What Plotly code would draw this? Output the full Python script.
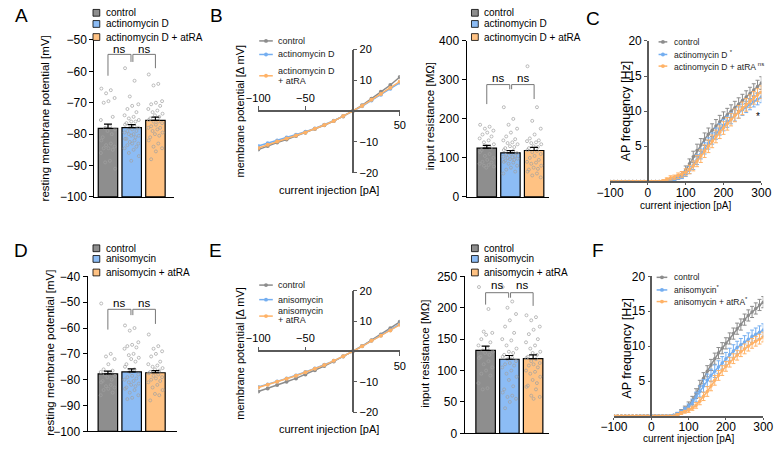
import plotly.graph_objects as go

# ── data ─────────────────────────────────────────────────────────────────────
labels_top = ["control", "actinomycin D", "actinomycin D + atRA"]
labels_bot = ["control", "anisomycin", "anisomycin + atRA"]

# A – resting membrane potential [mV]
rmp_A_mean = [-78.2, -77.9, -75.6]
rmp_A_sem = [1.4, 0.9, 1.0]
rmp_A_ctrl = [-65.5, -66.0, -67.0, -68.5, -69.5, -70.0, -74.5, -75.5, -77.5, -78.0, -78.5, -79.0, -80.0,
              -81.0, -82.0, -83.0, -83.5, -84.0, -84.5, -84.5, -85.0, -86.0, -88.5, -89.0, -91.0]
rmp_A_act = [-59.0, -63.0, -68.0, -70.5, -71.0, -72.0, -73.0, -74.0, -74.5, -75.0, -75.5, -76.0, -76.0,
             -76.5, -77.0, -77.5, -78.0, -78.0, -78.5, -79.0, -79.0, -79.5, -80.0, -80.0, -80.5, -80.5,
             -81.0, -81.5, -81.5, -82.0, -82.5, -83.0, -83.0, -83.5, -84.0, -84.5, -85.0, -86.0, -87.0, -88.5]
rmp_A_ra = [-61.0, -64.0, -64.5, -69.5, -70.0, -70.5, -71.0, -72.0, -72.5, -73.0, -73.5, -74.0, -74.5,
            -75.0, -75.5, -76.0, -76.0, -76.5, -77.0, -77.5, -78.0, -78.0, -78.5, -79.0, -79.5, -80.0,
            -80.5, -81.0, -82.0, -83.0, -84.0, -84.5, -85.5, -88.0]

# B – input resistance [MOhm]
rin_B_mean = [125, 113, 119]
rin_B_sem = [7, 6, 8]
rin_B_ctrl = [185, 180, 175, 170, 165, 160, 155, 150, 145, 140, 135, 130, 125, 120, 115, 110, 105, 100,
              95, 90, 88, 85, 82, 80, 78, 75]
rin_B_act = [230, 200, 185, 175, 165, 155, 148, 145, 140, 138, 135, 130, 128, 125, 120, 118, 115, 112,
             110, 108, 105, 103, 102, 100, 98, 97, 95, 93, 90, 88, 85, 80, 75, 70, 65, 60]
rin_B_ra = [335, 230, 195, 175, 160, 150, 145, 143, 140, 138, 135, 130, 128, 125, 120, 118, 115, 110,
            105, 100, 95, 90, 88, 85, 80, 75, 72, 70, 65, 60, 55, 50]

# B / E – I-V relation
iv_current = [-100, -90, -80, -70, -60, -50, -40, -30, -20, -10, 0, 10, 20, 30, 40, 50]
iv_B_ctrl = [-12.5, -11.3, -10.2, -9.2, -8.1, -7.0, -5.8, -4.6, -3.2, -1.7, 0, 1.9, 4.0, 6.3, 8.5, 11.1]
iv_B_act = [-11.3, -10.4, -9.5, -8.6, -7.7, -6.7, -5.6, -4.4, -3.1, -1.6, 0, 1.6, 3.5, 5.3, 7.3, 9.2]
iv_B_ra = [-12.0, -10.9, -9.9, -8.9, -7.9, -6.9, -5.7, -4.5, -3.2, -1.6, 0, 1.7, 3.7, 5.6, 7.6, 9.6]
iv_E_ctrl = [-13.2, -12.2, -11.1, -10.0, -8.9, -7.6, -6.2, -4.8, -3.3, -1.7, 0, 1.8, 3.7, 5.6, 7.7, 9.8]
iv_E_ani = [-11.7, -10.9, -9.9, -8.9, -7.9, -6.8, -5.6, -4.4, -3.1, -1.6, 0, 1.7, 3.5, 5.3, 7.0, 9.0]
iv_E_ra = [-11.9, -11.0, -10.0, -9.0, -8.0, -6.9, -5.7, -4.5, -3.1, -1.6, 0, 1.7, 3.5, 5.2, 6.9, 8.8]

# C / F – AP frequency [Hz]
ap_current = list(range(-100, 301, 10))
ap_C_ctrl = [0, 0, 0, 0, 0, 0, 0, 0, 0, 0, 0, 0, 0, 0, 0, 0,
             0.1, 0.3, 0.6, 1.0, 1.6, 2.5, 3.5, 4.4, 5.2, 6.0, 6.7, 7.3, 7.9, 8.5, 9.0,
             9.5, 10.0, 10.5, 11.0, 11.5, 12.0, 12.5, 13.0, 13.5, 14.0]
ap_C_act = [0, 0, 0, 0, 0, 0, 0, 0, 0, 0, 0, 0, 0, 0, 0, 0.1,
            0.2, 0.3, 0.5, 0.7, 1.1, 1.6, 2.3, 3.1, 3.9, 4.7, 5.4, 6.1, 6.8, 7.4, 8.0,
            8.5, 9.0, 9.4, 9.8, 10.2, 10.6, 11.0, 11.4, 11.7, 12.0]
ap_C_ra = [0, 0, 0, 0, 0, 0, 0, 0, 0, 0, 0, 0, 0, 0, 0.1, 0.3,
           0.5, 0.6, 0.8, 1.0, 1.3, 1.7, 2.2, 2.9, 3.6, 4.3, 5.0, 5.7, 6.4, 7.0, 7.6,
           8.2, 8.8, 9.4, 9.9, 10.4, 10.9, 11.4, 11.9, 12.3, 12.7]
ap_C_ctrl_sem = [0, 0, 0, 0, 0, 0, 0, 0, 0, 0, 0, 0, 0, 0, 0, 0,
                 0.1, 0.2, 0.3, 0.4, 0.6, 0.7, 0.8, 0.9, 0.9, 0.9, 0.9, 0.9, 0.9, 0.9, 0.9,
                 0.9, 0.9, 0.9, 0.9, 0.9, 0.9, 0.9, 0.9, 0.9, 0.9]
ap_C_act_sem = [0, 0, 0, 0, 0, 0, 0, 0, 0, 0, 0, 0, 0, 0, 0, 0.1,
                0.1, 0.2, 0.2, 0.3, 0.4, 0.5, 0.6, 0.7, 0.7, 0.8, 0.8, 0.8, 0.8, 0.8, 0.8,
                0.8, 0.8, 0.8, 0.8, 0.8, 0.8, 0.8, 0.8, 0.8, 0.8]
ap_C_ra_sem = [0, 0, 0, 0, 0, 0, 0, 0, 0, 0, 0, 0, 0, 0, 0.1, 0.2,
               0.3, 0.3, 0.4, 0.4, 0.5, 0.6, 0.7, 0.8, 0.9, 0.9, 0.9, 0.9, 0.9, 0.9, 0.9,
               0.9, 0.9, 0.9, 0.9, 0.9, 0.9, 0.9, 0.9, 0.9, 0.9]

ap_F_ctrl = [0, 0, 0, 0, 0, 0, 0, 0, 0, 0, 0, 0, 0, 0, 0, 0,
             0.1, 0.3, 0.6, 1.0, 1.5, 2.2, 3.2, 4.3, 5.4, 6.4, 7.3, 8.2, 9.0, 9.7, 10.4,
             11.1, 11.8, 12.5, 13.1, 13.8, 14.4, 14.9, 15.4, 15.9, 16.3]
ap_F_ani = [0, 0, 0, 0, 0, 0, 0, 0, 0, 0, 0, 0, 0, 0, 0, 0,
            0.1, 0.3, 0.6, 0.9, 1.3, 1.9, 2.7, 3.5, 4.3, 5.1, 5.8, 6.4, 7.0, 7.6, 8.2,
            8.8, 9.3, 9.8, 10.2, 10.6, 11.0, 11.4, 11.7, 12.0, 12.3]
ap_F_ra = [0, 0, 0, 0, 0, 0, 0, 0, 0, 0, 0, 0, 0, 0, 0, 0,
           0, 0.2, 0.4, 0.6, 0.8, 1.1, 1.5, 2.1, 2.8, 3.5, 4.3, 5.1, 5.8, 6.5, 7.1,
           7.7, 8.2, 8.7, 9.2, 9.6, 10.0, 10.4, 10.7, 11.0, 11.3]
ap_F_ctrl_sem = [0, 0, 0, 0, 0, 0, 0, 0, 0, 0, 0, 0, 0, 0, 0, 0,
                 0.1, 0.2, 0.3, 0.4, 0.5, 0.6, 0.7, 0.8, 0.8, 0.8, 0.8, 0.8, 0.8, 0.8, 0.8,
                 0.8, 0.8, 0.8, 0.8, 0.8, 0.8, 0.8, 0.8, 0.8, 0.8]
ap_F_ani_sem = [0, 0, 0, 0, 0, 0, 0, 0, 0, 0, 0, 0, 0, 0, 0, 0,
                0.1, 0.2, 0.2, 0.3, 0.4, 0.5, 0.7, 0.8, 0.9, 0.9, 0.9, 0.9, 0.9, 0.9, 0.9,
                0.9, 0.9, 0.9, 0.9, 0.9, 0.9, 0.9, 0.9, 0.9, 0.9]
ap_F_ra_sem = [0, 0, 0, 0, 0, 0, 0, 0, 0, 0, 0, 0, 0, 0, 0, 0,
               0, 0.1, 0.2, 0.2, 0.3, 0.3, 0.4, 0.5, 0.6, 0.7, 0.7, 0.7, 0.7, 0.7, 0.7,
               0.7, 0.7, 0.7, 0.7, 0.7, 0.7, 0.7, 0.7, 0.7, 0.7]

# D – resting membrane potential [mV]
rmp_D_mean = [-77.7, -77.0, -77.3]
rmp_D_sem = [1.0, 1.2, 0.8]
rmp_D_ctrl = [-50.5, -70.0, -71.0, -72.0, -74.0, -76.0, -76.5, -77.0, -77.5, -78.0, -78.5, -79.0, -80.0,
              -80.5, -81.0, -82.0, -82.5, -83.0, -83.5, -84.0, -85.0, -86.0]
rmp_D_ani = [-59.0, -60.0, -61.0, -65.5, -66.5, -67.0, -67.5, -68.0, -70.0, -70.5, -71.5, -72.0, -73.0,
             -74.0, -75.0, -76.0, -77.0, -78.0, -78.5, -79.0, -79.5, -80.0, -80.5, -81.0, -81.5, -82.0,
             -82.5, -83.0, -83.5, -84.0, -85.0, -86.0, -87.0, -87.5]
rmp_D_ra = [-62.5, -67.0, -68.0, -69.0, -70.0, -71.0, -73.0, -74.0, -74.5, -75.0, -75.5, -76.0, -76.5,
            -77.0, -77.5, -78.0, -78.5, -79.0, -79.5, -80.0, -80.5, -81.0, -82.0, -83.0, -84.0, -85.5,
            -86.0, -88.0]

# E – input resistance [MOhm]
rin_E_mean = [132, 118, 119]
rin_E_sem = [7, 6, 6]
rin_E_ctrl = [233, 198, 162, 160, 157, 150, 145, 140, 135, 132, 130, 128, 125, 122, 120, 115, 110, 105,
              100, 95, 92, 80, 72, 70]
rin_E_ani = [233, 210, 200, 190, 180, 170, 160, 150, 148, 140, 135, 130, 128, 125, 122, 120, 118, 115,
             112, 110, 108, 105, 100, 95, 90, 85, 75, 70, 65, 60, 58, 55, 50, 40]
rin_E_ra = [188, 185, 180, 170, 165, 158, 150, 145, 140, 135, 130, 128, 125, 122, 120, 118, 115, 112,
            110, 108, 105, 100, 98, 95, 90, 85, 80, 76, 74, 70, 60, 58, 55]

# ── styling ──────────────────────────────────────────────────────────────────
W, H = 781, 451
FONT = "Liberation Sans, Arial, sans-serif"
BAR_FILL = ["#8e8e8e", "#8cbcf5", "#ffc283"]
LINE_COL = ["#8c8c8c", "#74aef0", "#ffb266"]
AXIS_GRAY = "#5a5a5a"
JITTER = [-0.28, 0.12, -0.08, 0.28, 0.02, -0.18, 0.2, -0.3, 0.08, -0.12, 0.3, -0.02, 0.16, -0.22]


def fx(px):
    return px / W


def fy(py):
    return 1 - py / H


fig = go.Figure()
layout = {}
shapes = []
annotations = []


def ref(i):
    return ("x", "y") if i == 1 else (f"x{i}", f"y{i}")


def text(x, y, s, size, anchor="center", angle=0, color="black", **kw):
    annotations.append(dict(x=fx(x), y=fy(y), xref="paper", yref="paper", text=s, showarrow=False,
                            xanchor=anchor, yanchor="middle", textangle=angle,
                            font=dict(family=FONT, size=size, color=color), **kw))


def bar_panel(i, px_x, px_y, xr, yr, yticks, means, sems, dots, base, brackets, ns_y):
    xa, ya = ref(i)
    layout[f"xaxis{i}"] = dict(domain=[fx(px_x[0]), fx(px_x[1])], range=xr, anchor=ya, showline=True,
                               linecolor="black", linewidth=1.2, ticks="", showticklabels=False,
                               showgrid=False, zeroline=False)
    layout[f"yaxis{i}"] = dict(domain=[fy(px_y[1]), fy(px_y[0])], range=yr, anchor=xa, showline=True,
                               linecolor="black", linewidth=1.2, ticks="outside", ticklen=4,
                               tickcolor="black", tickvals=yticks, showgrid=False, zeroline=False,
                               tickfont=dict(family=FONT, size=12, color="black"))
    fig.add_trace(go.Bar(x=[0, 1, 2], y=[m - base for m in means], base=base, width=0.82,
                         marker=dict(color=BAR_FILL, line=dict(color="black", width=1.2)),
                         xaxis=xa, yaxis=ya, showlegend=False, hoverinfo="skip"))
    for g, vals in enumerate(dots):
        fig.add_trace(go.Scatter(
            x=[g + JITTER[k % len(JITTER)] for k in range(len(vals))], y=vals, mode="markers",
            marker=dict(symbol="circle-open", size=3, color="#a0a0a0", line=dict(width=0.7)),
            xaxis=xa, yaxis=ya, showlegend=False))
    fig.add_trace(go.Scatter(
        x=[0, 1, 2], y=means, mode="markers", marker=dict(size=1, color="rgba(0,0,0,0)"),
        error_y=dict(type="data", symmetric=False, array=sems, arrayminus=[0, 0, 0],
                     color="black", thickness=1.2, width=4),
        xaxis=xa, yaxis=ya, showlegend=False))
    top, l0, mid, r0 = brackets
    for path in (f"M 0,{l0} L 0,{top} L 0.97,{top} L 0.97,{mid}",
                 f"M 1.05,{mid} L 1.05,{top} L 2,{top} L 2,{r0}"):
        shapes.append(dict(type="path", path=path, xref=xa, yref=ya,
                           line=dict(color="#777777", width=1)))
    for cx in (0.47, 1.52):
        annotations.append(dict(x=cx, y=ns_y, xref=xa, yref=ya, text="ns", showarrow=False,
                                font=dict(family=FONT, size=11.5, color="black")))


def bar_legend(x_sq, x_txt, ys, names):
    for col, y, n in zip(BAR_FILL, ys, names):
        shapes.append(dict(type="rect", xref="paper", yref="paper",
                           x0=fx(x_sq - 3.5), x1=fx(x_sq + 3.5), y0=fy(y + 3.5), y1=fy(y - 3.5),
                           fillcolor=col, line=dict(color="black", width=0.8)))
        text(x_txt, y, n, 10, anchor="left")


def iv_panel(i, io, px_x, px_y, series):
    xa, ya = ref(i)
    y0f, y1f = fy(px_y[1]), fy(px_y[0])
    x0f, x1f = fx(px_x[0]), fx(px_x[1])
    zero_y = y0f + (y1f - y0f) * 0.5
    zero_x = x0f + (x1f - x0f) * 100 / 150
    ax = dict(range=[-100, 50], anchor="free", position=zero_y, showgrid=False, zeroline=False,
              ticks="outside", ticklen=4, tickcolor=AXIS_GRAY,
              tickfont=dict(family=FONT, size=11, color="black"))
    layout[f"xaxis{i}"] = dict(ax, domain=[x0f, x1f], side="top", tickvals=[-100, -50],
                               showline=True, linecolor=AXIS_GRAY, linewidth=1.5)
    layout[f"xaxis{io}"] = dict(ax, overlaying=xa, side="bottom", tickvals=[50], showline=False)
    layout[f"yaxis{i}"] = dict(domain=[y0f, y1f], range=[-20, 20], anchor="free", position=zero_x,
                               side="right", tickvals=[-20, -10, 10, 20], showline=True,
                               linecolor=AXIS_GRAY, linewidth=1.5, ticks="outside", ticklen=4,
                               tickcolor=AXIS_GRAY, showgrid=False, zeroline=False,
                               tickfont=dict(family=FONT, size=11, color="black"))
    for col, vals in zip(LINE_COL, series):
        fig.add_trace(go.Scatter(x=iv_current, y=vals, mode="lines+markers",
                                 line=dict(color=col, width=1.5), marker=dict(size=4, color=col),
                                 xaxis=xa, yaxis=ya, showlegend=False))
    fig.add_trace(go.Scatter(x=[None], y=[None], xaxis=f"x{io}", yaxis=ya, showlegend=False))


def line_legend(x0, x1, x_txt, ys, names, size):
    for col, (yl, yt), n in zip(LINE_COL, ys, names):
        shapes.append(dict(type="line", xref="paper", yref="paper", x0=fx(x0), x1=fx(x1),
                           y0=fy(yl), y1=fy(yl), line=dict(color=col, width=1.5)))
        cx = (x0 + x1) / 2
        shapes.append(dict(type="circle", xref="paper", yref="paper", x0=fx(cx - 2), x1=fx(cx + 2),
                           y0=fy(yl + 2), y1=fy(yl - 2), fillcolor=col, line=dict(width=0)))
        text(x_txt, yt, n, size, anchor="left", color="#222222")


def ap_panel(i, px_x, px_y, series, sems):
    xa, ya = ref(i)
    x0f, x1f = fx(px_x[0]), fx(px_x[1])
    zero_x = x0f + (x1f - x0f) * 100 / 400
    layout[f"xaxis{i}"] = dict(domain=[x0f, x1f], range=[-100, 300], anchor=ya, showline=True,
                               linecolor=AXIS_GRAY, linewidth=1.5, ticks="outside", ticklen=2,
                               tickcolor=AXIS_GRAY, tickvals=[-100, 0, 100, 200, 300],
                               ticklabelstandoff=-3, showgrid=False, zeroline=False,
                               tickfont=dict(family=FONT, size=12, color="black"))
    layout[f"yaxis{i}"] = dict(domain=[fy(px_y[1]), fy(px_y[0])], range=[0, 20], anchor="free",
                               position=zero_x, showline=True, linecolor=AXIS_GRAY, linewidth=1.5,
                               ticks="outside", ticklen=3, tickcolor=AXIS_GRAY,
                               tickvals=[5, 10, 15, 20], showgrid=False, zeroline=False,
                               tickfont=dict(family=FONT, size=12, color="black"))
    for col, vals, err in zip(LINE_COL, series, sems):
        fig.add_trace(go.Scatter(x=ap_current, y=vals, mode="lines+markers",
                                 line=dict(color=col, width=1.5), marker=dict(size=3.5, color=col),
                                 error_y=dict(type="data", array=err, color=col, thickness=1, width=2),
                                 xaxis=xa, yaxis=ya, showlegend=False))


# ── top row ──────────────────────────────────────────────────────────────────
bar_panel(1, (83, 165), (34, 196), [-0.57, 2.78], [-100, -50], [-100, -90, -80, -70, -60, -50],
          rmp_A_mean, rmp_A_sem, [rmp_A_ctrl, rmp_A_act, rmp_A_ra], -100,
          (-54.6, -61.4, -57.0, -59.0), -53.0)
bar_legend(85, 93, [6, 17.5, 31], labels_top)
text(32, 115, "resting membrane potential [mV]", 11.5, angle=-90)

iv_panel(2, 9, (252, 398), (44, 171), [iv_B_ctrl, iv_B_act, iv_B_ra])
line_legend(253, 267, 270, [(35, 35), (49, 49), (71, 66)],
            ["control", "actinomycin D", "actinomycin D"], 9)
text(270, 76, "+ atRA", 9, anchor="left", color="#222222")
text(233, 107, "membrane potential [Δ mV]", 11, angle=-90)
text(325, 189, "current injection [pA]", 11)

bar_panel(3, (467, 552), (35, 196), [-0.85, 2.63], [0, 400], [0, 100, 200, 300, 400],
          rin_B_mean, rin_B_sem, [rin_B_ctrl, rin_B_act, rin_B_ra], 0,
          (288, 238, 276, 251), 305)
bar_legend(475.5, 483, [6, 17.5, 31], labels_top)
text(430, 113, "input resistance [MΩ]", 11.5, angle=-90)

ap_panel(4, (615, 771), (35, 180), [ap_C_ctrl, ap_C_act, ap_C_ra],
         [ap_C_ctrl_sem, ap_C_act_sem, ap_C_ra_sem])
line_legend(665, 674, 679, [(36, 36), (49, 49), (61, 61)],
            ["control", "actinomycin D <sup>*</sup>", "actinomycin D + atRA <sup>ns</sup>"], 8.5)
text(631, 107, "AP frequency [Hz]", 12.5, angle=-90)
text(693, 205, "current injection [pA]", 10)
text(768, 113, "*", 10)

# ── bottom row ───────────────────────────────────────────────────────────────
bar_panel(5, (76, 168), (278, 438), [-0.85, 2.9], [-100, -40],
          [-100, -90, -80, -70, -60, -50, -40],
          rmp_D_mean, rmp_D_sem, [rmp_D_ctrl, rmp_D_ani, rmp_D_ra], -100,
          (-52.75, -60.6, -55.0, -58.4), -50.3)
bar_legend(85, 93, [249, 260, 274], labels_bot)
text(37, 357, "resting membrane potential [mV]", 11.5, angle=-90)

iv_panel(6, 10, (252, 398), (293, 418), [iv_E_ctrl, iv_E_ani, iv_E_ra])
line_legend(253, 267, 270, [(287, 287), (302, 302), (319, 314)],
            ["control", "anisomycin", "anisomycin"], 9)
text(270, 323, "+ atRA", 9, anchor="left", color="#222222")
text(233, 357, "membrane potential [Δ mV]", 11, angle=-90)
text(325, 436, "current injection [pA]", 11)

bar_panel(7, (465, 552), (278, 440), [-0.88, 2.67], [0, 250], [0, 50, 100, 150, 200, 250],
          rin_E_mean, rin_E_sem, [rin_E_ctrl, rin_E_ani, rin_E_ra], 0,
          (224, 205, 216, 203), 236)
bar_legend(475.5, 483, [249, 260, 274], labels_bot)
text(424, 358, "input resistance [MΩ]", 11.5, angle=-90)

ap_panel(8, (619, 773), (278, 422), [ap_F_ctrl, ap_F_ani, ap_F_ra],
         [ap_F_ctrl_sem, ap_F_ani_sem, ap_F_ra_sem])
line_legend(663, 674, 679, [(279, 279), (292, 292), (304, 304)],
            ["control", "anisomycin<sup>*</sup>", "anisomycin + atRA<sup>*</sup>"], 8.5)
text(633, 352, "AP frequency [Hz]", 12.5, angle=-90)
text(696, 445, "current injection [pA]", 10)

# ── panel letters ────────────────────────────────────────────────────────────
for letter, x, y in [("A", 8, 9), ("B", 209, 9), ("C", 597, 12),
                     ("D", 7, 251), ("E", 208, 251), ("F", 602, 251)]:
    text(x, y, letter, 19)

fig.update_layout(
    width=W, height=H, margin=dict(l=0, r=0, t=0, b=0),
    paper_bgcolor="white", plot_bgcolor="white", showlegend=False,
    shapes=shapes, annotations=annotations, **layout,
)
# the page's default body margin would shift the fixed-size figure
fig.write_html("out.html", config={"displayModeBar": False},
               post_script="document.body.style.margin='0';document.body.style.overflow='hidden';")
